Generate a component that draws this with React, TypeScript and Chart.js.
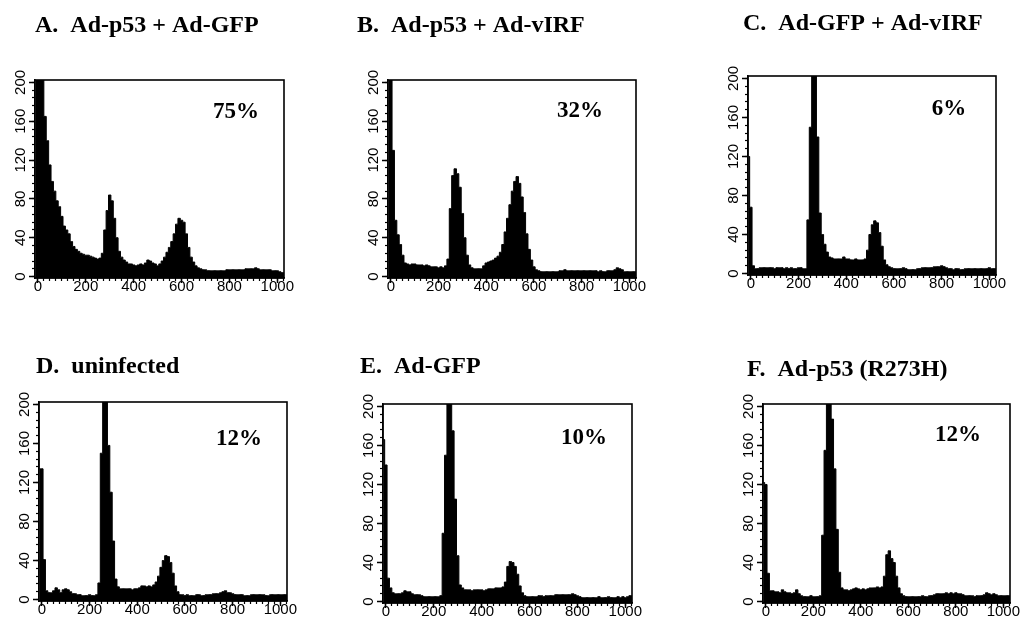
import React, { useEffect, useRef } from "react";
import { Chart, registerables } from "chart.js";

Chart.register(...registerables);
Chart.defaults.color = "#000";

// ---------------- data ----------------
// histogram bins: centre channel = BIN_START + k * BIN_WIDTH
const BIN_START = -10;
const BIN_WIDTH = 10;

const X_TICK_VALUES = [0, 200, 400, 600, 800, 1000];
const X_TICK_LABELS = ["0", "200", "400", "600", "800", "1000"];
const Y_TICK_VALUES = [0, 40, 80, 120, 160, 200];
const Y_TICK_LABELS = ["0", "40", "80", "120", "160", "200"];
const X_MINOR_STEP = 25;
const Y_MINOR_STEP = 8;

const TITLES = [
  "A.  Ad-p53 + Ad-GFP",
  "B.  Ad-p53 + Ad-vIRF",
  "C.  Ad-GFP + Ad-vIRF",
  "D.  uninfected",
  "E.  Ad-GFP",
  "F.  Ad-p53 (R273H)",
];
const PERCENTS = ["75%", "32%", "6%", "12%", "10%", "12%"];

const COUNTS_A = [
  250, 280, 260, 205, 165, 140, 115, 98, 88, 78,
  72, 62, 52, 48, 44, 36, 31, 28, 26, 24,
  23, 22, 22, 21, 20, 19, 18, 19, 24, 48,
  68, 84, 78, 60, 40, 26, 20, 17, 15, 13,
  13, 12, 11, 12, 13, 12, 14, 17, 16, 14,
  13, 11, 13, 16, 20, 25, 30, 36, 44, 54,
  60, 58, 56, 44, 30, 20, 15, 11, 9, 8,
  7, 7, 6, 6, 6, 6, 6, 6, 6, 6,
  7, 7, 7, 7, 7, 7, 7, 7, 8, 8,
  8, 8, 9, 8, 7, 7, 7, 7, 7, 6,
  6, 6, 5, 4, 4,
];
const COUNTS_B = [
  260, 250, 130, 58, 43, 33, 22, 14, 13, 12,
  13, 13, 12, 12, 12, 11, 12, 11, 10, 10,
  10, 9, 10, 9, 11, 18, 70, 104, 111, 106,
  92, 65, 40, 22, 12, 9, 8, 8, 8, 8,
  11, 14, 15, 16, 17, 19, 21, 25, 33, 46,
  60, 74, 88, 98, 103, 96, 82, 66, 44, 28,
  17, 10, 7, 6, 5, 5, 5, 5, 5, 5,
  5, 5, 6, 6, 7, 6, 6, 6, 6, 6,
  6, 6, 6, 6, 6, 6, 6, 6, 5, 6,
  5, 5, 6, 6, 6, 7, 9, 8, 7, 5,
  5, 5, 5, 5, 5,
];
const COUNTS_C = [
  120, 68, 8, 5, 5, 6, 6, 6, 6, 6,
  6, 5, 6, 6, 6, 5, 6, 5, 6, 5,
  5, 6, 6, 5, 5, 55, 150, 250, 230, 140,
  62, 40, 30, 22, 17, 16, 15, 15, 15, 15,
  17, 15, 15, 14, 14, 15, 14, 14, 14, 15,
  24, 40, 50, 54, 52, 42, 28, 14, 9, 7,
  6, 5, 5, 5, 5, 6, 5, 4, 4, 4,
  4, 5, 5, 6, 6, 6, 6, 6, 7, 7,
  7, 8, 7, 6, 5, 5, 4, 5, 5, 4,
  4, 5, 5, 5, 5, 5, 5, 5, 5, 5,
  5, 6, 5, 5, 5,
];
const COUNTS_D = [
  134, 134, 41, 9, 7, 7, 9, 12, 10, 7,
  10, 11, 10, 8, 6, 6, 5, 5, 4, 4,
  4, 5, 4, 4, 5, 17, 150, 250, 230, 158,
  110, 60, 21, 13, 11, 11, 11, 11, 11, 10,
  11, 11, 12, 14, 14, 13, 14, 13, 15, 18,
  24, 33, 40, 45, 44, 38, 27, 14, 8, 5,
  5, 4, 5, 4, 4, 4, 5, 5, 4, 4,
  5, 5, 5, 6, 6, 6, 7, 8, 9, 7,
  7, 6, 5, 5, 5, 5, 4, 4, 4, 5,
  5, 5, 5, 5, 5, 4, 4, 5, 5, 5,
  5, 5, 5, 5, 5,
];
const COUNTS_E = [
  166, 140, 24, 14, 9, 8, 8, 8, 9, 11,
  10, 10, 8, 7, 7, 7, 6, 5, 5, 5,
  5, 5, 5, 5, 6, 70, 150, 230, 250, 175,
  105, 47, 17, 14, 12, 12, 12, 11, 12, 12,
  12, 12, 11, 12, 13, 13, 13, 14, 14, 14,
  15, 20, 36, 41, 40, 36, 28, 16, 9, 6,
  5, 5, 5, 5, 5, 6, 6, 5, 6, 6,
  6, 6, 7, 7, 7, 7, 7, 7, 7, 8,
  7, 6, 5, 4, 4, 4, 4, 4, 4, 4,
  5, 4, 4, 4, 5, 4, 4, 4, 5, 4,
  5, 4, 5, 6, 6,
];
const COUNTS_F = [
  122, 120, 29, 11, 11, 10, 10, 9, 12, 10,
  9, 9, 8, 9, 12, 8, 6, 5, 5, 5,
  6, 5, 5, 5, 6, 68, 155, 240, 260, 187,
  136, 74, 30, 14, 12, 12, 11, 12, 13, 14,
  13, 12, 13, 12, 13, 14, 14, 14, 15, 14,
  15, 26, 48, 52, 44, 40, 26, 14, 8, 6,
  5, 5, 5, 5, 5, 5, 5, 6, 5, 5,
  6, 6, 7, 8, 8, 8, 8, 9, 8, 9,
  8, 9, 8, 8, 7, 6, 6, 6, 6, 5,
  6, 6, 6, 7, 9, 8, 7, 8, 7, 6,
  6, 6, 6, 6, 6,
];

const SERIES = [COUNTS_A, COUNTS_B, COUNTS_C, COUNTS_D, COUNTS_E, COUNTS_F];

// ---------------- layout ----------------
const X_RANGE = [-12, 1028];
const Y_RANGE = [-1.5, 202.5];
const Y_AXIS_W = 24;
const X_AXIS_H = 20;

const SANS = '"Liberation Sans", Arial, sans-serif';
const SERIF = '"Liberation Serif", "Times New Roman", serif';

const CELLS = [
  { left: 0, top: 0, width: 340, height: 313 },
  { left: 340, top: 0, width: 340, height: 313 },
  { left: 680, top: 0, width: 341, height: 313 },
  { left: 0, top: 313, width: 340, height: 313 },
  { left: 340, top: 313, width: 340, height: 313 },
  { left: 680, top: 313, width: 341, height: 313 },
];
// plot frame [left, top, right, bottom] in page px
const BOXES = [
  [35, 80, 284, 278],
  [388, 80, 636, 278],
  [748, 76, 996, 275],
  [39, 402, 287, 601],
  [383, 404, 632, 603],
  [763, 404, 1010, 603],
];
// title start x, baseline y
const TITLE_POS = [
  [35, 31.5],
  [357, 31.5],
  [743, 30],
  [36, 373],
  [360, 372.5],
  [747, 376],
];
// percent centre x, baseline y
const PCT_POS = [
  [236, 118],
  [580, 117],
  [949, 115],
  [239, 444.5],
  [584, 443.5],
  [958, 441],
];

function minorTicks(step: number, from: number, to: number) {
  const out: { value: number }[] = [];
  for (let v = from; v <= to; v += step) out.push({ value: v });
  return out;
}

function makeConfig(i: number): any {
  const cell = CELLS[i];
  const box = BOXES[i];
  const counts = SERIES[i];
  const points = counts.map((y, k) => ({ x: BIN_START + k * BIN_WIDTH, y }));
  const tickFont = { family: SANS, size: 15 };

  const decor = {
    id: "decor" + i,
    afterDatasetsDraw(chart: any) {
      const { ctx, chartArea: a } = chart;
      ctx.save();
      ctx.strokeStyle = "#000";
      ctx.lineWidth = 1.6;
      ctx.strokeRect(a.left, a.top, a.right - a.left, a.bottom - a.top);
      ctx.fillStyle = "#000";
      ctx.textBaseline = "alphabetic";
      ctx.textAlign = "left";
      ctx.font = `bold 24px ${SERIF}`;
      ctx.fillText(TITLES[i], TITLE_POS[i][0] - cell.left, TITLE_POS[i][1] - cell.top);
      ctx.textAlign = "center";
      ctx.font = `bold 23px ${SERIF}`;
      ctx.fillText(PERCENTS[i], PCT_POS[i][0] - cell.left, PCT_POS[i][1] - cell.top);
      ctx.restore();
    },
  };

  return {
    type: "line",
    data: {
      datasets: [
        {
          data: points,
          xAxisID: "x",
          yAxisID: "y",
          stepped: "middle",
          fill: "start",
          backgroundColor: "#000",
          borderColor: "#000",
          borderWidth: 1,
          pointRadius: 0,
          tension: 0,
        },
      ],
    },
    options: {
      animation: false,
      responsive: false,
      events: [],
      layout: {
        padding: {
          left: box[0] - cell.left - Y_AXIS_W,
          top: box[1] - cell.top,
          right: cell.left + cell.width - box[2],
          bottom: cell.top + cell.height - box[3] - X_AXIS_H,
        },
      },
      plugins: {
        legend: { display: false },
        tooltip: { enabled: false },
        title: { display: false },
      },
      scales: {
        x: {
          type: "linear",
          axis: "x",
          position: "bottom",
          weight: 1,
          min: X_RANGE[0],
          max: X_RANGE[1],
          afterBuildTicks: (s: any) => {
            s.ticks = X_TICK_VALUES.map((v) => ({ value: v }));
          },
          afterFit: (s: any) => {
            s.height = X_AXIS_H;
          },
          ticks: {
            autoSkip: false,
            minRotation: 0,
            maxRotation: 0,
            padding: -5,
            color: "#000",
            font: tickFont,
            callback: (v: any) => X_TICK_LABELS[X_TICK_VALUES.indexOf(Number(v))] ?? "",
          },
          grid: {
            display: true,
            drawOnChartArea: false,
            drawTicks: true,
            tickLength: 5,
            tickWidth: 1.5,
            tickColor: "#000",
          },
          border: { display: true, color: "#000", width: 1.5 },
        },
        xMinor: {
          type: "linear",
          axis: "x",
          position: "bottom",
          weight: 0,
          min: X_RANGE[0],
          max: X_RANGE[1],
          afterBuildTicks: (s: any) => {
            s.ticks = minorTicks(X_MINOR_STEP, 0, 1025);
          },
          afterFit: (s: any) => {
            s.height = 0;
          },
          ticks: { display: false, autoSkip: false },
          grid: {
            display: true,
            drawOnChartArea: false,
            drawTicks: true,
            tickLength: 3,
            tickWidth: 1.2,
            tickColor: "#000",
          },
          border: { display: false },
        },
        y: {
          type: "linear",
          axis: "y",
          position: "left",
          weight: 1,
          min: Y_RANGE[0],
          max: Y_RANGE[1],
          afterBuildTicks: (s: any) => {
            s.ticks = Y_TICK_VALUES.map((v) => ({ value: v }));
          },
          afterFit: (s: any) => {
            s.width = Y_AXIS_W;
          },
          ticks: {
            autoSkip: false,
            minRotation: 90,
            maxRotation: 90,
            crossAlign: "center",
            padding: -4,
            color: "#000",
            font: tickFont,
            callback: (v: any) => Y_TICK_LABELS[Y_TICK_VALUES.indexOf(Number(v))] ?? "",
          },
          grid: {
            display: true,
            drawOnChartArea: false,
            drawTicks: true,
            tickLength: 6,
            tickWidth: 1.5,
            tickColor: "#000",
          },
          border: { display: true, color: "#000", width: 1.5 },
        },
        yMinor: {
          type: "linear",
          axis: "y",
          position: "left",
          weight: 0,
          min: Y_RANGE[0],
          max: Y_RANGE[1],
          afterBuildTicks: (s: any) => {
            s.ticks = minorTicks(Y_MINOR_STEP, 0, 200);
          },
          afterFit: (s: any) => {
            s.width = 0;
          },
          ticks: { display: false, autoSkip: false },
          grid: {
            display: true,
            drawOnChartArea: false,
            drawTicks: true,
            tickLength: 3,
            tickWidth: 1.2,
            tickColor: "#000",
          },
          border: { display: false },
        },
      },
    },
    plugins: [decor],
  };
}

function Panel({ idx }: { idx: number }) {
  const ref = useRef<HTMLCanvasElement>(null);
  useEffect(() => {
    if (!ref.current) return;
    const chart = new Chart(ref.current, makeConfig(idx));
    return () => chart.destroy();
  }, [idx]);
  const cell = CELLS[idx];
  return (
    <canvas
      ref={ref}
      width={cell.width}
      height={cell.height}
      style={{
        position: "absolute",
        left: cell.left,
        top: cell.top,
        width: cell.width,
        height: cell.height,
      }}
    />
  );
}

export default function App() {
  return (
    <div
      style={{
        position: "absolute",
        left: 0,
        top: 0,
        width: 1021,
        height: 626,
        background: "#fff",
        overflow: "hidden",
      }}
    >
      {SERIES.map((_, i) => (
        <Panel key={i} idx={i} />
      ))}
    </div>
  );
}
